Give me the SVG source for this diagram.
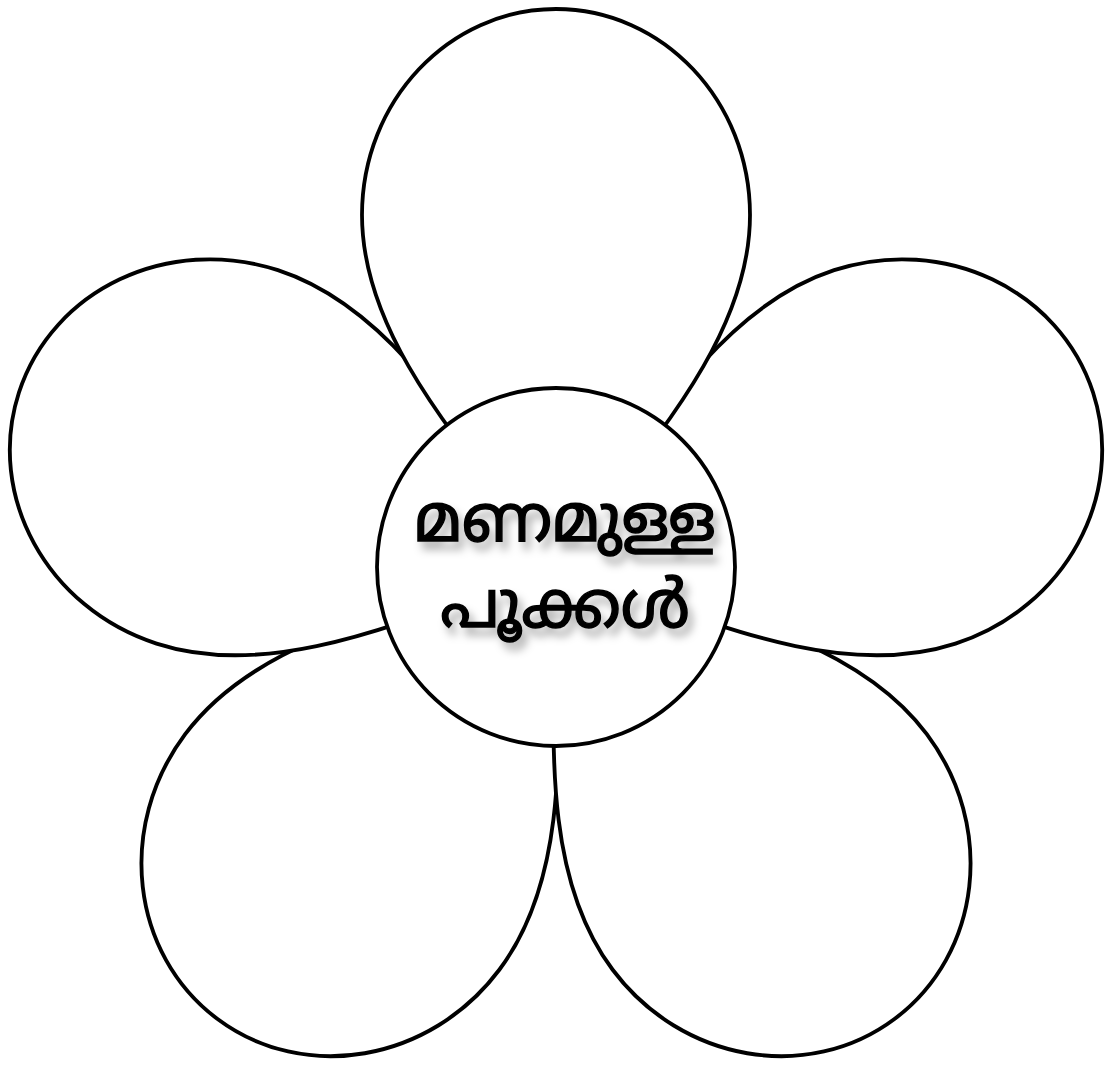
<svg xmlns="http://www.w3.org/2000/svg" xmlns:xlink="http://www.w3.org/1999/xlink" width="1107" height="1068" viewBox="0 0 1107 1068">
  <style>
    .petal { fill: #ffffff; stroke: #000000; stroke-width: 3.8; stroke-linejoin: round; }
    .center { fill: #ffffff; stroke: #000000; stroke-width: 3.8; }
    .label { font-family: "Noto Sans Malayalam", "Noto Sans", "DejaVu Sans", sans-serif; font-weight: 400; font-size: 66px; fill: #000000; stroke: #000000; stroke-width: 1.4px; text-anchor: middle; }
  </style>
  <defs>
    <path id="petal-shape" d="M 0,0 C -80,-108 -194,-222 -194,-352 C -194,-466 -107,-558 0,-558 C 107,-558 194,-466 194,-352 C 194,-222 80,-108 0,0 Z"/>
    <filter id="shadow" x="-20%" y="-40%" width="140%" height="180%">
      <feDropShadow dx="5" dy="8" stdDeviation="4" flood-color="#000000" flood-opacity="0.3"/>
    </filter>
  </defs>
  <rect width="1107" height="1068" fill="#ffffff"/>
  <g id="petal-bottom-left">
    <use xlink:href="#petal-shape" class="petal" transform="translate(556,567) rotate(-143.13) scale(1.012)"/>
  </g>
  <g id="petal-bottom-right">
    <use xlink:href="#petal-shape" class="petal" transform="translate(556,567) rotate(143.13) scale(1.012)"/>
  </g>
  <g id="petal-left">
    <use xlink:href="#petal-shape" class="petal" transform="translate(556,567) rotate(-72) scale(1.012)"/>
  </g>
  <g id="petal-right">
    <use xlink:href="#petal-shape" class="petal" transform="translate(556,567) rotate(72) scale(1.012)"/>
  </g>
  <g id="petal-top">
    <use xlink:href="#petal-shape" class="petal" transform="translate(556,567)"/>
  </g>
  <g id="center">
    <circle class="center" cx="556" cy="567" r="179"/>
    <g filter="url(#shadow)">
      <text class="label" x="565" y="541">മണമുള്ള</text>
      <text class="label" x="565" y="627">പൂക്കൾ</text>
    </g>
  </g>
  <g id="connectors"></g>
</svg>
